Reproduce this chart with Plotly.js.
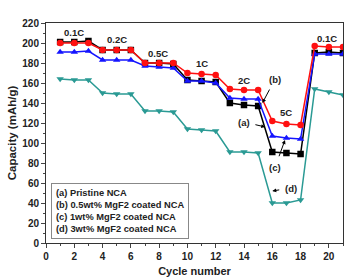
<!DOCTYPE html>
<html><head><meta charset="utf-8">
<script src="https://cdn.plot.ly/plotly-3.0.1.min.js"></script>
<style>body{margin:0;background:#fff}#c{width:350px;height:277px}</style>
</head><body><div id="c"></div>
<script>
const cycles = [1,2,3,4,5,6,7,8,9,10,11,12,13,14,15,16,17,18,19,20,21];
const pristine = [201,201,202,193,193,193,180,180,179,163,162,161,140,138,137,91,90,89,190,191,190];
const mgf05 = [200,200,200,193,193,193,180,180,180,170,169,168,154,153,153,122,119,118,197,196,196];
const mgf1 = [191,191,192,183,183,183,177,176,175,162,162,160,145,144,144,107,105,104,189,189,189];
const mgf3 = [164,163,163,150,149,149,132,132,131,114,113,112,91,91,90,40,40,43,154,151,148];
const rateLabels = ["0.1C","0.2C","0.5C","1C","2C","5C","0.1C"];
const rateX = [2,5,7.9,11,14,17,19.9];
const rateY = [211,204,190,180,163,131,205];
const legendLines = ["(a) Pristine NCA","(b) 0.5wt% MgF2 coated NCA","(c) 1wt% MgF2 coated NCA","(d) 3wt% MgF2 coated NCA"];

const F = "Liberation Sans, Arial, sans-serif";
function tr(y, color, sym){
  return {x:cycles, y:y, mode:"lines+markers", line:{color:color,width:1.5},
    marker:{symbol:sym,size:6.5,color:color}, showlegend:false};
}
const data = [
  tr(mgf3,"#2a9a94","triangle-down"),
  tr(pristine,"#000000","square"),
  tr(mgf1,"#1515ff","triangle-up"),
  tr(mgf05,"#ff1010","circle")
];
const ann = rateLabels.map((t,i)=>({x:rateX[i],y:rateY[i],text:"<b>"+t+"</b>",showarrow:false,font:{family:F,size:9.5,color:"#222"}}));
function arr(t,x,y,ax,ay){return {x:x,y:y,ax:ax,ay:ay,axref:"x",ayref:"y",text:"<b>"+t+"</b>",showarrow:true,arrowhead:2,arrowsize:0.8,arrowwidth:1,arrowcolor:"#000",font:{family:F,size:9.5,color:"#222"},standoff:0,startstandoff:4};}
ann.push(arr("(b)",15.3,140,16.2,164));
ann.push(arr("(a)",15.5,116,14.0,121));
ann.push(arr("(c)",16.9,103,16.2,76));
ann.push(arr("(d)",16.0,52,17.3,55));
ann.push({xref:"paper",yref:"paper",x:0.018,y:0.273,xanchor:"left",yanchor:"top",align:"left",
  text:legendLines.map(s=>"<b>"+s+"</b>").join("<br>"),showarrow:false,
  font:{family:F,size:9.3,color:"#222"},bordercolor:"#888",borderwidth:1,borderpad:4,bgcolor:"#fff"});

const layout = {
  width:350,height:277,margin:{l:46,r:7,t:23,b:34},
  paper_bgcolor:"#fff",plot_bgcolor:"#fff",
  font:{family:F,color:"#222"},
  xaxis:{range:[0,21],tick0:0,dtick:2,ticks:"outside",ticklen:4,tickwidth:1,
    minor:{dtick:1,ticks:"outside",ticklen:2},
    showline:true,linecolor:"#333",linewidth:1,mirror:true,showgrid:false,zeroline:false,
    tickfont:{family:F,size:10,weight:"bold"},
    title:{text:"<b>Cycle number</b>",font:{family:F,size:11},standoff:8}},
  yaxis:{range:[0,220],tick0:0,dtick:20,ticks:"outside",ticklen:4,tickwidth:1,
    minor:{dtick:10,ticks:"outside",ticklen:2},
    showline:true,linecolor:"#333",linewidth:1,mirror:true,showgrid:false,zeroline:false,
    tickfont:{family:F,size:10,weight:"bold"},
    title:{text:"<b>Capacity (mAh/g)</b>",font:{family:F,size:11.5},standoff:3}},
  annotations:ann
};
Plotly.newPlot("c",data,layout,{staticPlot:true,displayModeBar:false});
</script></body></html>
